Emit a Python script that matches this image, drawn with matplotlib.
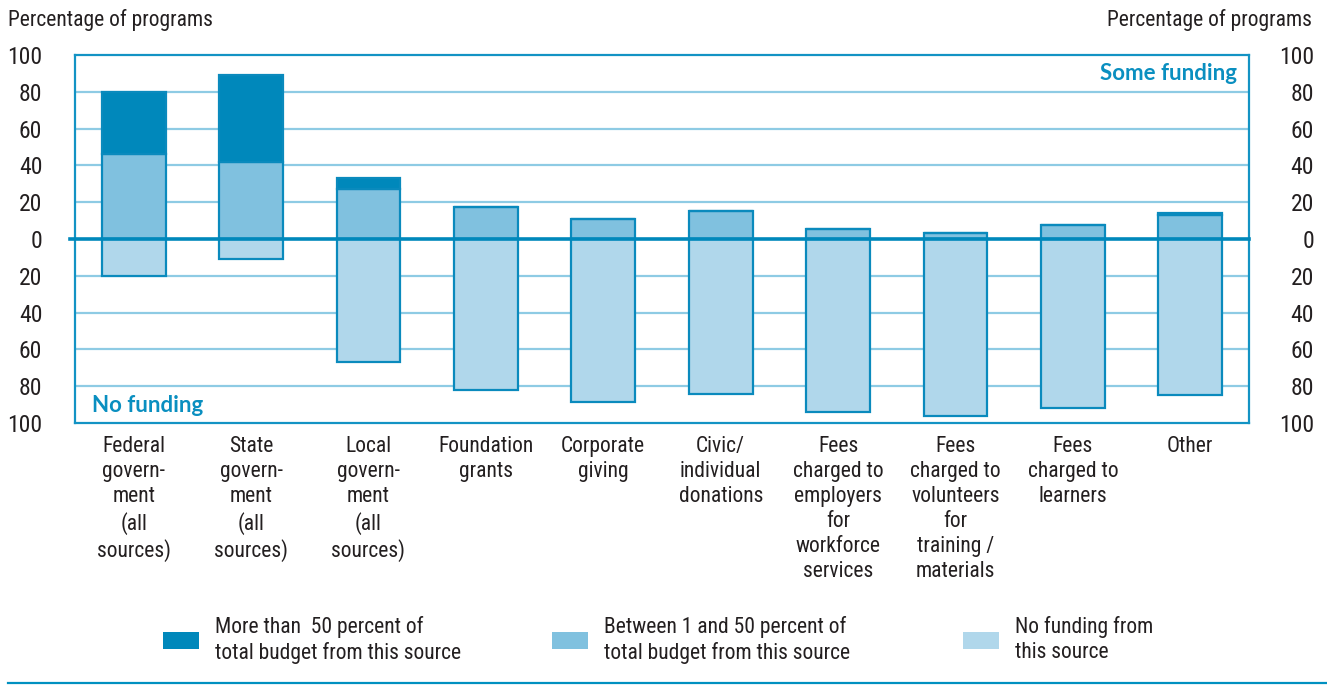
import matplotlib
matplotlib.use("Agg")
import matplotlib.pyplot as plt
import matplotlib.transforms as mtrans
from matplotlib.patches import Patch

plt.rcParams['font.family'] = ['Roboto Condensed', 'Archivo Narrow', 'Liberation Sans', 'DejaVu Sans']

# data (percentage of programs)
categories = [
    "Federal\ngovern-\nment\n(all\nsources)",
    "State\ngovern-\nment\n(all\nsources)",
    "Local\ngovern-\nment\n(all\nsources)",
    "Foundation\ngrants",
    "Corporate\ngiving",
    "Civic/\nindividual\ndonations",
    "Fees\ncharged to\nemployers\nfor\nworkforce\nservices",
    "Fees\ncharged to\nvolunteers\nfor\ntraining /\nmaterials",
    "Fees\ncharged to\nlearners",
    "Other",
]
over_50   = [34, 47, 6, 0, 0, 0, 0, 0, 0, 1.5]
between   = [46, 42, 27, 17.4, 10.9, 15.2, 5.4, 3.5, 7.8, 12.8]
no_fund   = [20, 11, 67, 82, 88.6, 84.2, 94, 96, 92, 85]
yticks    = [-100, -80, -60, -40, -20, 0, 20, 40, 60, 80, 100]
legend_labels = [
    "More than  50 percent of\ntotal budget from this source",
    "Between 1 and 50 percent of\ntotal budget from this source",
    "No funding from\nthis source",
]

DARK  = "#0088BB"
MID   = "#80C1DF"
LIGHT = "#B0D7EB"
EDGE  = "#0A8ABD"
GRID  = "#8ECBE4"
TXT   = "#231F20"
W, H = 1327, 685
FS = 15.5

fig = plt.figure(figsize=(W / 100, H / 100), dpi=100)
ax = fig.add_axes([75 / W, 1 - 423 / H, (1249 - 75) / W, (423 - 55) / H])

x = list(range(len(categories)))
bw = 0.545
ax.bar(x, between, width=bw, color=MID, edgecolor=EDGE, linewidth=1.6, zorder=3)
ax.bar(x, over_50, bottom=between, width=bw, color=DARK, edgecolor=EDGE, linewidth=1.6, zorder=3)
ax.bar(x, [-v for v in no_fund], width=bw, color=LIGHT, edgecolor=EDGE, linewidth=1.6, zorder=3)

ax.set_xlim(-0.5, 9.5)
ax.set_ylim(-100, 100)
for yv in yticks[1:-1]:
    if yv != 0:
        ax.axhline(yv, color=GRID, lw=1.6, zorder=1)
ax.axhline(0, xmin=-0.004, xmax=1, color=DARK, lw=2.6, zorder=4, clip_on=False)

for s in ax.spines.values():
    s.set_color("#1393C4")
    s.set_linewidth(1.6)

ax.set_yticks(yticks)
ax.set_yticklabels([str(abs(v)) for v in yticks])
ax.tick_params(axis='y', length=0, labelsize=17, labelcolor=TXT, pad=23.5,
               labelleft=True, labelright=True)
# right side labels are right-aligned at x=1314
offset = mtrans.ScaledTranslation(65 / 100 - 23.5 / 72, 0, fig.dpi_scale_trans)
for t in ax.yaxis.get_major_ticks():
    t.label2.set_horizontalalignment('right')
    t.label2.set_transform(t.label2.get_transform() + offset)

ax.set_xticks(x)
ax.set_xticklabels(categories, fontsize=FS, color=TXT, linespacing=1.25)
ax.tick_params(axis='x', length=0, pad=9.5)

ax.text(0.99, 0.951, "Some funding", transform=ax.transAxes, ha='right', va='center',
        fontsize=16, fontweight='bold', color="#0A8FC0", family=['Lato', 'DejaVu Sans'])
ax.text(0.0145, 0.047, "No funding", transform=ax.transAxes, ha='left', va='center',
        fontsize=16, fontweight='bold', color="#0A8FC0", family=['Lato', 'DejaVu Sans'])

fig.text(8 / W, 1 - 20 / H, "Percentage of programs", ha='left', va='center', fontsize=FS, color=TXT)
fig.text(1312 / W, 1 - 20 / H, "Percentage of programs", ha='right', va='center', fontsize=FS, color=TXT)

# legend: three single-entry legends placed like the original
colors = [DARK, MID, LIGHT]
handle_x = [163, 552, 963]
for c, lab, hx in zip(colors, legend_labels, handle_x):
    leg = fig.legend(handles=[Patch(facecolor=c, edgecolor='none')], labels=[lab],
                     loc='center left', bbox_to_anchor=(hx / W, 1 - 640 / H),
                     frameon=False, fontsize=FS, handlelength=1.65, handleheight=0.85,
                     handletextpad=0.75, borderpad=0, borderaxespad=0, labelcolor=TXT)
    for t in leg.get_texts():
        t.set_linespacing(1.25)

fig.add_artist(plt.Line2D([8 / W, 1.0], [1 - 683 / H, 1 - 683 / H], color="#0090C0", lw=1.6))

fig.savefig("out.png", dpi=100)
